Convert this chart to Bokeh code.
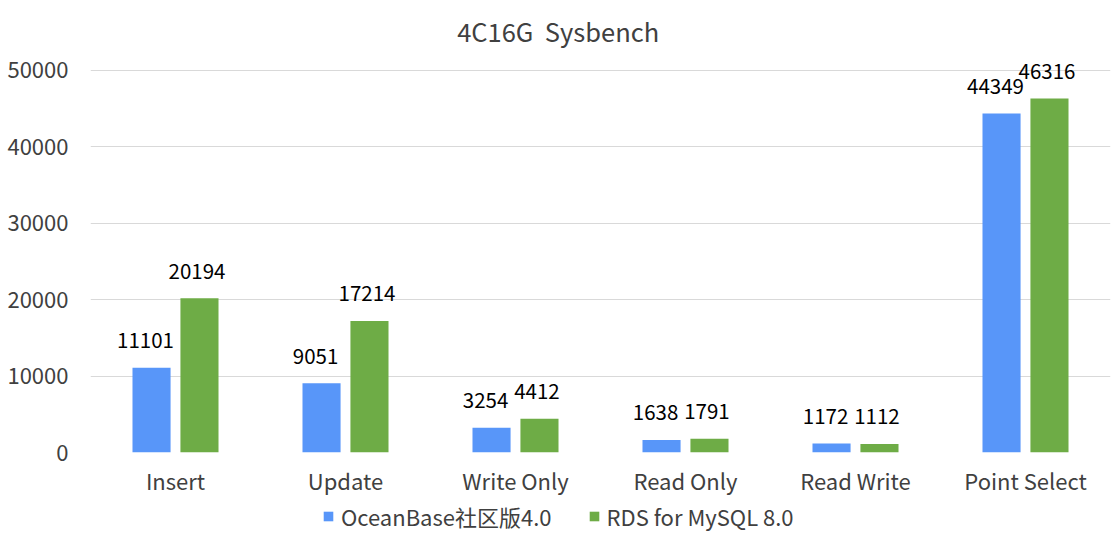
from bokeh.plotting import figure
from bokeh.layouts import column
from bokeh.models import ColumnDataSource, FactorRange, Range1d, Legend, LegendItem, FixedTicker
from bokeh.transform import dodge
from bokeh.core.properties import value
from bokeh.embed import file_html
from bokeh.resources import INLINE

# ---- data ----
title_text = "4C16G\u00a0\u00a0Sysbench"
categories = ["Insert", "Update", "Write Only", "Read Only", "Read Write", "Point Select"]
oceanbase = [11101, 9051, 3254, 1638, 1172, 44349]
rds_mysql = [20194, 17214, 4412, 1791, 1112, 46316]
series_names = ["OceanBase社区版4.0", "RDS for MySQL 8.0"]
y_ticks = [0, 10000, 20000, 30000, 40000, 50000]

# ---- style ----
BLUE = "#5896F9"
GREEN = "#6EAC46"
FONT = "Noto Sans CJK SC"
Y_MAX = 59130
OFF = 0.141
BAR_W = 0.224

src = ColumnDataSource(dict(
    cat=categories,
    ob=oceanbase,
    rds=rds_mysql,
    ob_lbl=[str(v) for v in oceanbase],
    rds_lbl=[str(v) for v in rds_mysql],
))

p = figure(x_range=FactorRange(*categories), y_range=Range1d(0, Y_MAX),
           width=1112, height=498,
           output_backend="svg", toolbar_location=None,
           min_border_left=90, min_border_right=2, min_border_top=0, min_border_bottom=46)
p.outline_line_color = None
p.background_fill_color = "white"
p.border_fill_color = "white"

# axes
for ax in (p.xaxis[0], p.yaxis[0]):
    ax.axis_line_color = None
    ax.major_tick_line_color = None
    ax.minor_tick_line_color = None
    ax.major_tick_in = 0
    ax.major_tick_out = 0
    ax.major_label_text_font = FONT
p.xaxis.major_label_text_font_size = "22px"
p.xaxis.major_label_text_color = "#404040"
p.xaxis.major_label_standoff = 11
p.yaxis.ticker = FixedTicker(ticks=y_ticks)
p.yaxis.major_label_text_font_size = "22px"
p.yaxis.major_label_text_color = "#404040"
p.yaxis.major_label_standoff = 22
p.xgrid.grid_line_color = None
p.ygrid.grid_line_color = "#D9D9D9"
p.ygrid.grid_line_width = 1

# bars
r1 = p.vbar(x=dodge("cat", -OFF, range=p.x_range), top="ob", width=BAR_W, source=src,
            fill_color=BLUE, line_color=None)
r2 = p.vbar(x=dodge("cat", OFF, range=p.x_range), top="rds", width=BAR_W, source=src,
            fill_color=GREEN, line_color=None)

# data labels
for xo, col, xs in ((-OFF, "ob", -6), (OFF, "rds", -2.5)):
    p.text(x=dodge("cat", xo, range=p.x_range), y=col, text=col + "_lbl", source=src,
           text_align="center", text_baseline="alphabetic", x_offset=xs, y_offset=-27,
           text_font=value(FONT), text_font_size="20.5px", text_color="#000000")

# title
tsrc = ColumnDataSource(dict(x=[categories[2]], y=[55207], t=[title_text]))
p.text(x=dodge("x", 0.251, range=p.x_range), y="y", text="t", source=tsrc,
       text_align="center", text_baseline="middle",
       text_font=value(FONT), text_font_size="25.5px", text_color="#404040")

# ---- legend strip (separate small figure below the chart) ----
lg = figure(x_range=Range1d(0, 1), y_range=Range1d(0, 1), width=1112, height=42,
            output_backend="svg", toolbar_location=None,
            min_border_left=90, min_border_right=2, min_border_top=0, min_border_bottom=0)
lg.xaxis.visible = False
lg.yaxis.visible = False
lg.xgrid.grid_line_color = None
lg.ygrid.grid_line_color = None
lg.outline_line_color = None
lg.border_fill_color = "white"
# legend keys only (kept outside the visible range of this strip)
k1 = lg.vbar(x=[0.5], bottom=[-3], top=[-2], width=0.1, fill_color=BLUE, line_color=None)
k2 = lg.vbar(x=[0.5], bottom=[-3], top=[-2], width=0.1, fill_color=GREEN, line_color=None)

legend = Legend(items=[LegendItem(label=series_names[0], renderers=[k1]),
                       LegendItem(label=series_names[1], renderers=[k2])],
                orientation="horizontal", location=(232, 8),
                border_line_color=None, background_fill_alpha=0,
                label_text_font=FONT, label_text_font_size="22px", label_text_color="#404040",
                glyph_width=12, glyph_height=12, label_standoff=7, spacing=36,
                padding=4, margin=0)
lg.add_layout(legend, "center")

layout = column(p, lg, spacing=0)
open("out.html", "w").write(file_html(layout, INLINE))
